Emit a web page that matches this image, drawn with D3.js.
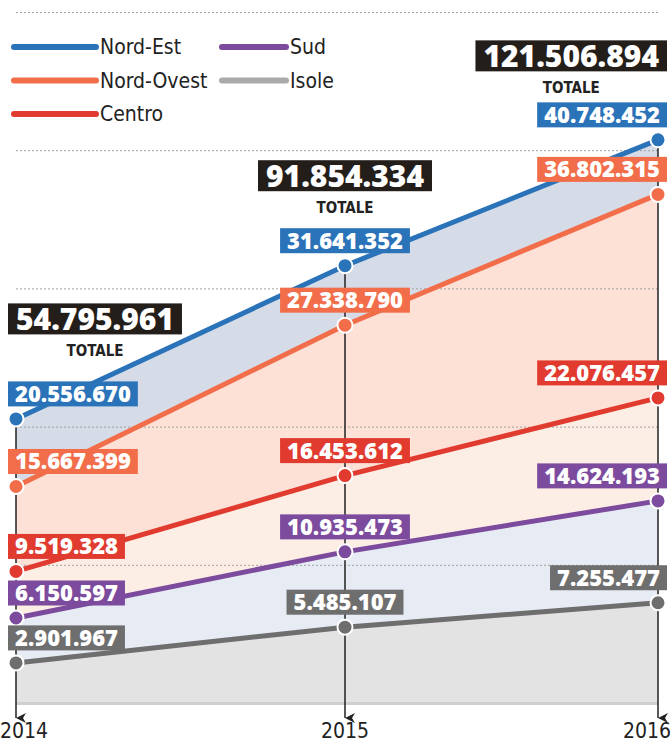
<!DOCTYPE html>
<html>
<head>
<meta charset="utf-8">
<script src="https://cdn.jsdelivr.net/npm/d3@7"></script>
<style>
  body { margin: 0; background: #fff; }
  svg { display: block; }
  .num { font-family: "Open Sans", "DejaVu Sans", sans-serif; font-weight: 800; fill: #fff; }
  .cond { font-family: "DejaVu Sans Condensed", "Liberation Sans Narrow", "Roboto", sans-serif; font-stretch: condensed; }
</style>
</head>
<body>
<div id="chart"></div>
<script>
const width = 671
const height = 742

const years = [2014, 2015, 2016]
const regions = ["Nord-Est", "Nord-Ovest", "Centro", "Sud", "Isole"]
const nordEst = [20556670, 31641352, 40748452]
const nordOvest = [15667399, 27338790, 36802315]
const centro = [9519328, 16453612, 22076457]
const sud = [6150597, 10935473, 14624193]
const isole = [2901967, 5485107, 7255477]
const totals = [54795961, 91854334, 121506894]
const gridTicks = [10e6, 20e6, 30e6, 40e6, 50e6]

const values = [nordEst, nordOvest, centro, sud, isole]
const lineColors = ["#2b73b9", "#f26e4a", "#e13b30", "#7d4b9d", "#6e6e6e"]
const legendColors = ["#2b73b9", "#f26e4a", "#e13b30", "#7d4b9d", "#aaaaaa"]
// fill below each line, down to the next one
const fillColors = ["#d6dce7", "#fde0d6", "#fdeee5", "#e7ebf4", "#e4e3e3"]
// how far above the top dot the total box sits (px)
const totalLift = [100, 90, 84]

const fmt = n => d3.format(",d")(n).replace(/,/g, ".")

// the middle year sits a little right of centre in the original
const x = d3.scaleOrdinal().domain(years).range([16, 345, 658])
const y = d3.scaleLinear().domain([0, 50e6]).range([703, 12])

const svg = d3.select("#chart").append("svg")
  .attr("width", width).attr("height", height)

const series = regions.map((name, i) => ({
  name, i,
  points: years.map((yr, j) => ({year: yr, value: values[i][j],
    below: i < regions.length - 1 ? values[i + 1][j] : 0}))
}))

// areas between lines
const area = d3.area()
  .x(d => x(d.year))
  .y0(d => y(d.below))
  .y1(d => y(d.value))

svg.append("g").selectAll("path")
  .data(series)
  .join("path")
  .attr("d", d => area(d.points))
  .attr("fill", d => fillColors[d.i])

// baseline
svg.append("line")
  .attr("x1", x(2014)).attr("x2", x(2016))
  .attr("y1", y(0) + 0.5).attr("y2", y(0) + 0.5)
  .attr("stroke", "#cfcfcf").attr("stroke-width", 3)

// dotted grid
svg.append("g").selectAll("line")
  .data(gridTicks)
  .join("line")
  .attr("x1", x(2014)).attr("x2", x(2016))
  .attr("y1", d => y(d) + 0.5).attr("y2", d => y(d) + 0.5)
  .attr("stroke", "#a0a0a0").attr("stroke-width", 1)
  .attr("stroke-dasharray", "2,2")

// vertical year lines with arrow
svg.append("defs").append("marker")
  .attr("id", "arrow")
  .attr("viewBox", "0 0 10 10")
  .attr("refX", 5).attr("refY", 10)
  .attr("markerWidth", 10).attr("markerHeight", 10)
  .attr("markerUnits", "userSpaceOnUse")
  .attr("orient", "auto-start-reverse")
  .append("path")
  .attr("d", "M0,0 L5,3 L10,0 L5,10 Z")
  .attr("fill", "#222")

svg.append("g").selectAll("line")
  .data(years)
  .join("line")
  .attr("x1", d => x(d)).attr("x2", d => x(d))
  .attr("y1", (d, j) => y(nordEst[j]))
  .attr("y2", 718)
  .attr("stroke", "#222").attr("stroke-width", 1.5)
  .attr("marker-end", "url(#arrow)")

// year labels
svg.append("g").selectAll("text")
  .data(years)
  .join("text")
  .attr("class", "cond")
  .attr("x", (d, j) => j === 0 ? 0 : j === 2 ? 671 : x(d))
  .attr("y", 738)
  .attr("text-anchor", (d, j) => j === 0 ? "start" : j === 2 ? "end" : "middle")
  .attr("font-size", 21)
  .attr("fill", "#222")
  .text(d => d)

// lines
const line = d3.line().x(d => x(d.year)).y(d => y(d.value))
svg.append("g").selectAll("path")
  .data(series)
  .join("path")
  .attr("d", d => line(d.points))
  .attr("fill", "none")
  .attr("stroke", d => lineColors[d.i])
  .attr("stroke-width", 5)

// dots
series.forEach(s => {
  svg.append("g").selectAll("circle")
    .data(s.points)
    .join("circle")
    .attr("cx", d => x(d.year)).attr("cy", d => y(d.value))
    .attr("r", 7.5)
    .attr("fill", lineColors[s.i])
    .attr("stroke", "#fff").attr("stroke-width", 2)
})

// value labels
function boxLabel(g, text, cx, cy, anchor, edge, size, padX, boxH, bg) {
  const grp = g.append("g")
  const t = grp.append("text")
    .attr("class", "num")
    .attr("font-size", size)
    .attr("y", cy)
    .attr("dy", "0.36em")
    .text(text)
  const w = t.node().getComputedTextLength() + padX * 2
  let left
  if (anchor === "start") left = edge
  else if (anchor === "end") left = edge - w
  else left = cx - w / 2
  t.attr("x", left + padX)
  grp.insert("rect", "text")
    .attr("x", left).attr("y", cy - boxH / 2)
    .attr("width", w).attr("height", boxH)
    .attr("fill", bg)
  return {left, w}
}

const labels = svg.append("g")
series.forEach(s => {
  s.points.forEach((p, j) => {
    const anchor = j === 0 ? "start" : j === 2 ? "end" : "middle"
    const edge = j === 0 ? 8 : 667
    boxLabel(labels, fmt(p.value), x(p.year), y(p.value) - 25, anchor, edge,
      22, 7, 25, lineColors[s.i])
  })
})

// totals
years.forEach((yr, j) => {
  const mid = y(nordEst[j]) - totalLift[j]
  const anchor = j === 0 ? "start" : j === 2 ? "end" : "middle"
  const edge = j === 0 ? 8 : 667
  const b = boxLabel(labels, fmt(totals[j]), x(yr), mid, anchor, edge, 30, 8, 31, "#241e1a")
  labels.append("text")
    .attr("class", "cond")
    .attr("x", b.left + b.w / 2)
    .attr("y", mid + 15.5 + 22)
    .attr("text-anchor", "middle")
    .attr("font-size", 15)
    .attr("font-weight", "bold")
    .attr("fill", "#222")
    .text("TOTALE")
})

// legend
const legendCols = [[14, 96, 100], [222, 286, 290]]
const legend = svg.append("g")
regions.forEach((name, i) => {
  const col = legendCols[i < 3 ? 0 : 1]
  const row = i < 3 ? i : i - 3
  const ly = 47 + row * 33.5
  legend.append("line")
    .attr("x1", col[0]).attr("x2", col[1])
    .attr("y1", ly).attr("y2", ly)
    .attr("stroke", legendColors[i])
    .attr("stroke-width", 6)
    .attr("stroke-linecap", "round")
  legend.append("text")
    .attr("class", "cond")
    .attr("x", col[2]).attr("y", ly)
    .attr("dy", "0.35em")
    .attr("font-size", 21)
    .attr("fill", "#222")
    .text(name)
})
</script>
</body>
</html>
